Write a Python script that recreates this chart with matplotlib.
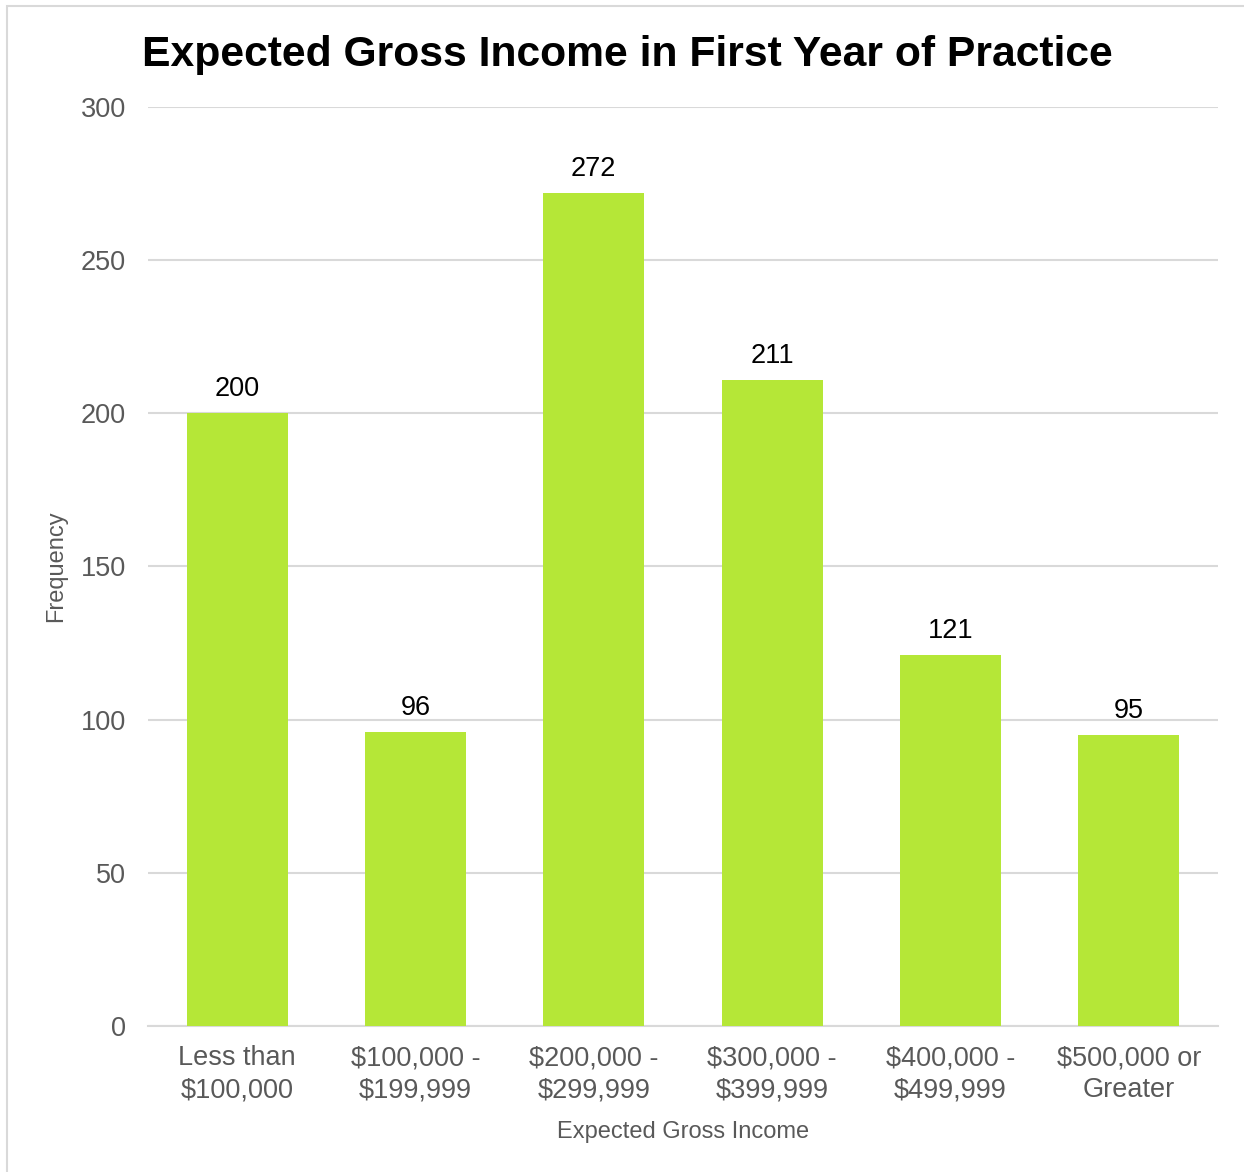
import matplotlib.pyplot as plt
from matplotlib.patches import Rectangle

# ---- du lieu ----
categories = ['Less than\n$100,000', '$100,000 -\n$199,999', '$200,000 -\n$299,999',
              '$300,000 -\n$399,999', '$400,000 -\n$499,999', '$500,000 or\nGreater']
counts = [200, 96, 272, 211, 121, 95]
yticks = [0, 50, 100, 150, 200, 250, 300]

plt.rcParams['font.family'] = ['Liberation Sans', 'DejaVu Sans']
GRAY = '#595959'

fig = plt.figure(figsize=(12.44, 11.72), dpi=100)
ax = fig.add_axes([0.119, 0.1246, 0.86, 0.7841])

# khung vien mo quanh hinh
fig.patches.append(Rectangle((7 / 1244, -0.01), 1.02, 1 - 6 / 1172 + 0.01,
                             transform=fig.transFigure, fill=False,
                             edgecolor='#D9D9D9', linewidth=1.5))

x = range(len(categories))
bars = ax.bar(x, counts, width=0.567, color='#B5E737', zorder=3)
for b, v in zip(bars, counts):
    ax.text(b.get_x() + b.get_width() / 2, v + 3.6, str(v), ha='center', va='bottom',
            fontsize=19.5, color='black')

ax.set_xlim(-0.5, len(categories) - 0.5)
ax.set_ylim(0, 300)
ax.set_yticks(yticks)
ax.set_xticks(list(x))
ax.set_xticklabels(categories, fontsize=19.5, color=GRAY, linespacing=1.3)
ax.tick_params(axis='y', labelsize=19.5, labelcolor=GRAY, length=0, pad=16)
ax.tick_params(axis='x', length=0, pad=14)
ax.grid(axis='y', color='#D9D9D9', linewidth=1.5, zorder=0)
for s in ['top', 'right', 'left']:
    ax.spines[s].set_visible(False)
ax.spines['bottom'].set_color('#D9D9D9')
ax.spines['bottom'].set_linewidth(1.5)

ax.set_ylabel('Frequency', fontsize=17, color=GRAY, labelpad=10)
ax.set_xlabel('Expected Gross Income', fontsize=17, color=GRAY, labelpad=13)
fig.text(627 / 1244, 1 - 55 / 1172, 'Expected Gross Income in First Year of Practice',
         ha='center', va='center', fontsize=30.7, fontweight='bold', color='black')

fig.savefig('out.png', dpi=100)
